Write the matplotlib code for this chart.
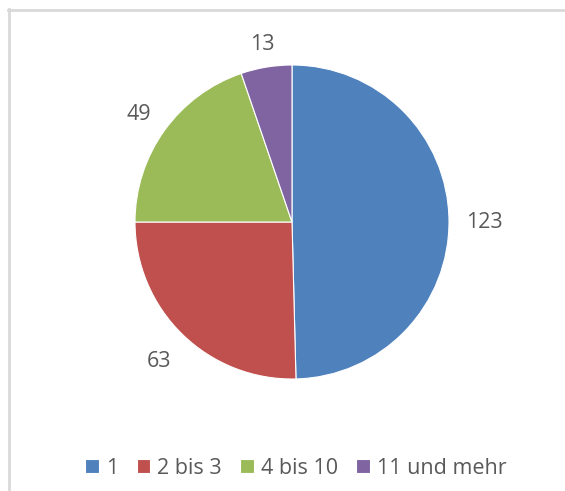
import matplotlib

matplotlib.use("Agg")
from matplotlib import pyplot as plt
import numpy as np

# chart data
categories = ["1", "2 bis 3", "4 bis 10", "11 und mehr"]
counts = [123, 63, 49, 13]
colors = ["#4F81BD", "#C0504D", "#9BBB59", "#8064A2"]
label_dist = [1.226, 1.218, 1.2, 1.162]

plt.rcParams["font.family"] = ["Open Sans", "DejaVu Sans"]
text_color = "#595959"

W, H = 565, 491
fig = plt.figure(figsize=(W / 100, H / 100), dpi=100)

# thin grey frame (top and left edges visible)
fig.add_artist(plt.Line2D([8.5 / W, 8.5 / W], [0, 1 - 9 / H], color="#D9D9D9", lw=2))
fig.add_artist(plt.Line2D([8 / W, 1], [1 - 9.5 / H, 1 - 9.5 / H], color="#D9D9D9", lw=2))

cx, cy, r = 292, 222, 157
ax = fig.add_axes([(cx - r) / W, (H - cy - r) / H, 2 * r / W, 2 * r / H])
wedges, texts = ax.pie(
    counts,
    labels=[str(c) for c in counts],
    colors=colors,
    startangle=90,
    counterclock=False,
    wedgeprops=dict(edgecolor="white", linewidth=0.8),
    textprops=dict(color=text_color, fontsize=15.5),
)
for w, t, d in zip(wedges, texts, label_dist):
    ang = np.deg2rad((w.theta1 + w.theta2) / 2)
    t.set_position((d * np.cos(ang), d * np.sin(ang)))
    t.set_ha("center")
    t.set_va("center_baseline")
    t.set_clip_on(False)
ax.set_xlim(-1, 1)
ax.set_ylim(-1, 1)
ax.set_aspect("equal")

fig.legend(
    wedges,
    categories,
    loc="center",
    bbox_to_anchor=(296 / W, 1 - 468 / H),
    ncol=4,
    frameon=False,
    fontsize=15.5,
    labelcolor=text_color,
    handlelength=0.63,
    handleheight=0.63,
    handletextpad=0.33,
    columnspacing=0.85,
)

fig.savefig("out.png", dpi=100)
